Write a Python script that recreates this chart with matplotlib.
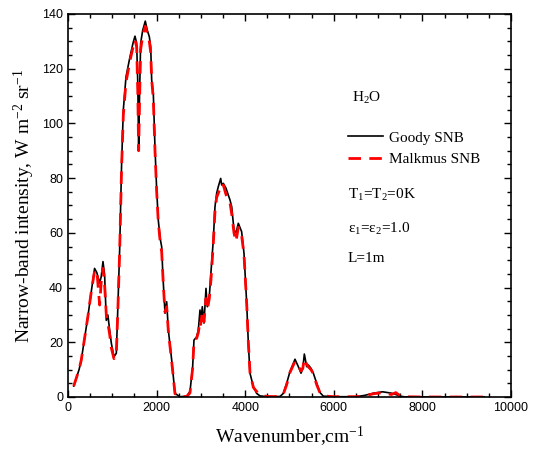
import matplotlib
matplotlib.use("Agg")
import matplotlib.pyplot as plt
from matplotlib.ticker import MultipleLocator

plt.rcParams['mathtext.fontset'] = 'custom'
plt.rcParams['mathtext.rm'] = 'Liberation Serif'
plt.rcParams['mathtext.it'] = 'Liberation Serif'
plt.rcParams['mathtext.default'] = 'regular'

# Wavenumber grid (cm^-1) and narrow-band intensities (W m^-2 sr^-1)
wavenumber = [130, 250, 300, 450, 530, 600, 650, 715, 750, 790, 827, 865, 900, 940,
              978, 1038, 1091, 1130, 1166, 1210, 1249, 1309, 1400, 1470, 1512, 1550,
              1575, 1595, 1615, 1640, 1686, 1745, 1791, 1836, 1867, 1889, 1926, 1964,
              2002, 2038, 2080, 2115, 2137, 2152, 2190, 2228, 2265, 2341, 2415, 2528,
              2678, 2754, 2814, 2844, 2905, 2942, 2980, 2995, 3032, 3070, 3115, 3145,
              3190, 3228, 3280, 3318, 3356, 3393, 3447, 3469, 3506, 3567, 3619, 3657,
              3695, 3747, 3792, 3845, 3920, 3973, 4034, 4071, 4108, 4184, 4259, 4334,
              4500, 4786, 4860, 4936, 5011, 5124, 5199, 5260, 5300, 5335, 5388, 5425,
              5485, 5538, 5614, 5689, 5764, 6000, 6500, 6700, 6900, 7100, 7300, 7400,
              7500, 7600, 8000, 9000, 9400]

goody_snb = [4.0, 10.0, 13.5, 29.5, 39.0, 47.0, 45.5, 41.6, 44.0, 49.5, 44.6, 28.0,
             30.0, 24.5, 19.7, 14.7, 16.0, 35.0, 53.7, 85.0, 104.9, 117.0, 124.4,
             129.5, 131.9, 129.4, 115.0, 90.9, 110.0, 129.3, 134.0, 137.4, 134.0,
             131.7, 128.0, 115.9, 111.0, 91.0, 75.7, 64.7, 58.0, 54.9, 46.4, 41.6,
             30.6, 34.8, 24.5, 13.5, 1.3, 0.1, 0.3, 2.0, 11.1, 20.8, 22.0, 24.5,
             31.8, 27.0, 33.0, 27.0, 39.7, 33.0, 36.7, 45.8, 57.4, 69.5, 74.5, 76.9,
             79.9, 77.5, 78.1, 76.3, 73.8, 72.0, 69.6, 61.0, 60.0, 63.5, 60.4, 52.5,
             34.2, 19.6, 8.7, 3.8, 1.3, 0.4, 0.1, 0.2, 1.3, 5.0, 9.3, 13.8, 11.1,
             8.7, 10.4, 15.7, 11.1, 11.7, 10.5, 8.7, 5.0, 1.6, 0.3, 0.1, 0.1, 0.6,
             1.4, 1.9, 1.4, 0.9, 0.3, 0.05, 0.0, 0.0, 0.0]

malkmus_snb = [4.0, 10.0, 13.5, 29.5, 39.0, 46.0, 46.5, 33.6, 42.0, 47.0, 41.0, 30.0,
               27.0, 23.0, 18.0, 14.0, 15.5, 34.0, 53.0, 84.0, 103.0, 115.0, 123.0,
               128.0, 130.5, 128.0, 112.0, 90.0, 108.0, 127.0, 132.0, 135.5, 133.0,
               130.0, 126.0, 116.0, 109.0, 90.0, 75.0, 64.0, 57.0, 53.0, 46.0, 41.0,
               31.0, 33.0, 24.0, 13.0, 1.2, 0.2, 0.1, 1.5, 10.5, 20.5, 21.5, 23.5,
               28.0, 26.5, 31.0, 27.5, 36.0, 32.0, 36.0, 43.0, 56.0, 68.0, 73.0, 74.5,
               77.0, 76.5, 77.5, 74.0, 72.0, 71.0, 67.0, 60.0, 56.8, 62.0, 59.0, 52.0,
               34.0, 20.0, 9.0, 3.5, 2.0, 0.6, 0.2, 0.1, 1.0, 4.5, 9.0, 13.0, 11.5,
               9.5, 10.5, 14.0, 12.0, 11.0, 10.0, 8.5, 4.5, 1.5, 0.4, 0.1, 0.1, 0.4,
               1.2, 1.6, 0.9, 1.6, 0.4, 0.1, 0.0, 0.0, 0.0]

fig = plt.figure(figsize=(5.37, 4.59), dpi=100)
ax = fig.add_axes([0.1266, 0.1351, 0.8250, 0.8344])

ax.plot(wavenumber, goody_snb, color='black', lw=1.2, label='Goody SNB')
ax.plot(wavenumber, malkmus_snb, color='red', lw=2.0, dashes=(4.5, 3.0),
        label='Malkmus SNB')

ax.set_xlim(0, 10000)
ax.set_ylim(0, 140)
ax.xaxis.set_major_locator(MultipleLocator(2000))
ax.xaxis.set_minor_locator(MultipleLocator(500))
ax.yaxis.set_major_locator(MultipleLocator(20))
ax.yaxis.set_minor_locator(MultipleLocator(5))
ax.tick_params(which='both', direction='in', top=True, right=True, width=1.0)
ax.tick_params(which='major', length=5, labelsize=9)
ax.tick_params(which='minor', length=3)
for lab in ax.get_xticklabels() + ax.get_yticklabels():
    lab.set_fontfamily('Liberation Sans')
for sp in ax.spines.values():
    sp.set_linewidth(1.2)

serif = 'Liberation Serif'
ax.set_xlabel('Wavenumber,cm$^{-1}$', fontsize=14, family=serif, labelpad=8)
ax.set_ylabel('Narrow-band intensity, W m$^{-2}$ sr$^{-1}$', fontsize=14,
              family=serif, labelpad=4)

leg = ax.legend(loc='upper left', bbox_to_anchor=(0.632, 0.6945), frameon=False,
                borderpad=0, borderaxespad=0, handlelength=2.3, handletextpad=0.4,
                labelspacing=0.5, prop={'family': serif, 'size': 11})

ax.text(6411, 107.9, 'H$_2$O', fontsize=11, family=serif, va='baseline')
ax.text(6321, 72.3, 'T$_1$=T$_2$=0K', fontsize=11, family=serif, va='baseline')
ax.text(6321, 59.8, 'ε$_1$=ε$_2$=1.0', fontsize=11, family=serif, va='baseline')
ax.text(6321, 49.5, 'L=1m', fontsize=11, family=serif, va='baseline')

fig.savefig('out.png', dpi=100)
